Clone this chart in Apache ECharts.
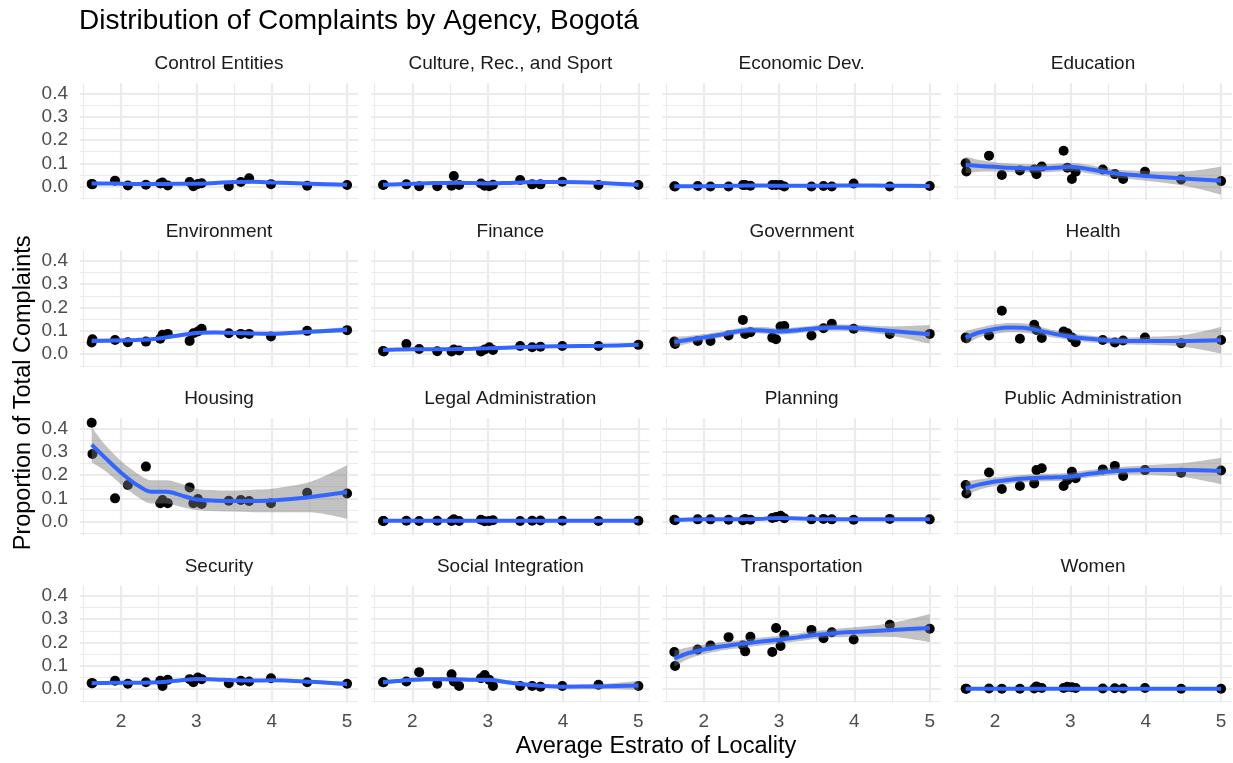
<!DOCTYPE html>
<html>
<head>
<meta charset="utf-8">
<script src="https://cdn.jsdelivr.net/npm/echarts@6/dist/echarts.min.js"></script>
<style>
  html, body { margin: 0; padding: 0; background: #ffffff; }
  #chart { width: 1233px; height: 763px; }
</style>
</head>
<body>
<div id="chart"></div>
<script>
// Facet titles, in panel order (left to right, top to bottom)
const agencies = [
  'Control Entities', 'Culture, Rec., and Sport', 'Economic Dev.', 'Education',
  'Environment', 'Finance', 'Government', 'Health',
  'Housing', 'Legal Administration', 'Planning', 'Public Administration',
  'Security', 'Social Integration', 'Transportation', 'Women'
];

// Average estrato of each locality (shared x values for every panel)
const estrato = [1.61, 1.62, 1.92, 2.09, 2.33, 2.52, 2.55, 2.62, 2.91, 2.96, 3.02, 3.07, 3.43, 3.59, 3.70, 3.99, 4.47, 5.00];

// Proportion of each locality's complaints going to the agency
const controlEntities = [0.012, 0.010, 0.026, 0.005, 0.008, 0.014, 0.018, 0.005, 0.020, 0.002, 0.012, 0.015, 0.002, 0.020, 0.036, 0.011, 0.004, 0.007];
const cultureRecSport = [0.007, 0.008, 0.010, 0.002, 0.002, 0.004, 0.046, 0.007, 0.014, 0.004, 0.002, 0.008, 0.029, 0.010, 0.010, 0.021, 0.007, 0.007];
const economicDev     = [0.002, 0.001, 0.003, 0.001, 0.001, 0.007, 0.007, 0.004, 0.007, 0.007, 0.007, 0.001, 0.001, 0.003, 0.001, 0.014, 0.001, 0.003];
const education       = [0.100, 0.065, 0.133, 0.050, 0.069, 0.074, 0.053, 0.086, 0.154, 0.081, 0.033, 0.064, 0.074, 0.054, 0.033, 0.064, 0.031, 0.024];
const environment     = [0.050, 0.064, 0.061, 0.051, 0.054, 0.066, 0.083, 0.087, 0.057, 0.090, 0.097, 0.109, 0.090, 0.087, 0.087, 0.076, 0.100, 0.103];
const finance         = [0.014, 0.012, 0.044, 0.022, 0.013, 0.012, 0.020, 0.016, 0.012, 0.020, 0.030, 0.018, 0.035, 0.030, 0.032, 0.035, 0.035, 0.040];
const government      = [0.054, 0.044, 0.057, 0.057, 0.080, 0.147, 0.087, 0.094, 0.071, 0.064, 0.119, 0.121, 0.080, 0.111, 0.130, 0.109, 0.087, 0.087];
const health          = [0.071, 0.068, 0.080, 0.186, 0.066, 0.126, 0.104, 0.069, 0.097, 0.090, 0.071, 0.051, 0.061, 0.050, 0.059, 0.071, 0.047, 0.061];
const housing         = [0.424, 0.290, 0.100, 0.157, 0.236, 0.079, 0.093, 0.079, 0.147, 0.079, 0.097, 0.076, 0.090, 0.093, 0.089, 0.079, 0.124, 0.121];
const legalAdmin      = [0.003, 0.003, 0.004, 0.003, 0.004, 0.003, 0.010, 0.003, 0.008, 0.002, 0.003, 0.006, 0.003, 0.004, 0.005, 0.004, 0.003, 0.004];
const planning        = [0.008, 0.006, 0.010, 0.010, 0.008, 0.006, 0.012, 0.008, 0.016, 0.020, 0.025, 0.015, 0.010, 0.012, 0.010, 0.008, 0.012, 0.010];
const publicAdmin     = [0.157, 0.121, 0.211, 0.140, 0.153, 0.164, 0.221, 0.229, 0.153, 0.179, 0.214, 0.186, 0.224, 0.239, 0.196, 0.221, 0.210, 0.219];
const security        = [0.026, 0.026, 0.036, 0.023, 0.030, 0.036, 0.014, 0.040, 0.043, 0.030, 0.050, 0.043, 0.026, 0.036, 0.033, 0.047, 0.030, 0.023];
const socialIntegr    = [0.030, 0.030, 0.033, 0.073, 0.023, 0.064, 0.033, 0.014, 0.047, 0.061, 0.040, 0.014, 0.014, 0.014, 0.011, 0.014, 0.019, 0.014];
const transportation  = [0.159, 0.099, 0.170, 0.187, 0.223, 0.187, 0.162, 0.225, 0.159, 0.262, 0.185, 0.232, 0.254, 0.218, 0.244, 0.213, 0.276, 0.259];
const women           = [0.002, 0.002, 0.003, 0.002, 0.002, 0.003, 0.012, 0.005, 0.005, 0.010, 0.008, 0.005, 0.003, 0.004, 0.003, 0.005, 0.002, 0.002];

// Smoothed trend (loess fit) evaluated along the estrato range
const fitX = [1.61, 1.8, 2.0, 2.2, 2.4, 2.6, 2.8, 3.0, 3.25, 3.5, 3.75, 4.0, 4.5, 5.0];
const fitControlEntities = [0.014, 0.014, 0.013, 0.012, 0.012, 0.012, 0.013, 0.013, 0.016, 0.020, 0.021, 0.018, 0.013, 0.008];
const fitCultureRecSport = [0.008, 0.011, 0.013, 0.015, 0.016, 0.017, 0.016, 0.014, 0.016, 0.019, 0.020, 0.020, 0.016, 0.008];
const fitEconomicDev     = [0.002, 0.002, 0.002, 0.003, 0.004, 0.005, 0.005, 0.004, 0.004, 0.004, 0.005, 0.005, 0.004, 0.003];
const fitEducation       = [0.093, 0.089, 0.085, 0.081, 0.079, 0.078, 0.081, 0.085, 0.075, 0.061, 0.052, 0.046, 0.035, 0.026];
const fitEnvironment     = [0.057, 0.058, 0.059, 0.061, 0.064, 0.072, 0.082, 0.091, 0.093, 0.091, 0.089, 0.088, 0.096, 0.105];
const fitFinance         = [0.018, 0.020, 0.021, 0.021, 0.021, 0.022, 0.023, 0.025, 0.028, 0.031, 0.033, 0.034, 0.036, 0.040];
const fitGovernment      = [0.052, 0.062, 0.072, 0.082, 0.095, 0.104, 0.102, 0.097, 0.103, 0.111, 0.114, 0.112, 0.099, 0.085];
const fitHealth          = [0.071, 0.094, 0.108, 0.114, 0.112, 0.100, 0.086, 0.075, 0.066, 0.059, 0.057, 0.057, 0.057, 0.060];
const fitHousing         = [0.330, 0.270, 0.210, 0.160, 0.128, 0.128, 0.113, 0.095, 0.090, 0.089, 0.089, 0.091, 0.105, 0.127];
const fitLegalAdmin      = [0.004, 0.004, 0.004, 0.004, 0.004, 0.004, 0.004, 0.004, 0.004, 0.004, 0.004, 0.004, 0.004, 0.004];
const fitPlanning        = [0.008, 0.009, 0.010, 0.010, 0.010, 0.011, 0.013, 0.016, 0.014, 0.012, 0.011, 0.011, 0.011, 0.011];
const fitPublicAdmin     = [0.143, 0.160, 0.172, 0.180, 0.185, 0.188, 0.190, 0.194, 0.205, 0.214, 0.219, 0.221, 0.221, 0.217];
const fitSecurity        = [0.026, 0.027, 0.028, 0.028, 0.029, 0.032, 0.038, 0.044, 0.042, 0.038, 0.037, 0.038, 0.032, 0.022];
const fitSocialIntegr    = [0.030, 0.035, 0.040, 0.043, 0.043, 0.042, 0.040, 0.040, 0.030, 0.020, 0.014, 0.011, 0.012, 0.016];
const fitTransportation  = [0.131, 0.155, 0.170, 0.182, 0.190, 0.198, 0.205, 0.212, 0.222, 0.233, 0.240, 0.245, 0.254, 0.262];
const fitWomen           = [0.002, 0.002, 0.002, 0.002, 0.002, 0.002, 0.002, 0.002, 0.002, 0.002, 0.002, 0.002, 0.002, 0.002];

// Half-width of the 95% confidence ribbon around each fit
const ciControlEntities = [0.006, 0.005, 0.004, 0.004, 0.004, 0.004, 0.004, 0.004, 0.004, 0.005, 0.005, 0.005, 0.005, 0.008];
const ciCultureRecSport = [0.006, 0.005, 0.004, 0.004, 0.004, 0.004, 0.004, 0.004, 0.004, 0.004, 0.004, 0.005, 0.005, 0.008];
const ciEconomicDev     = [0.003, 0.003, 0.002, 0.002, 0.002, 0.002, 0.002, 0.002, 0.002, 0.002, 0.002, 0.002, 0.003, 0.004];
const ciEducation       = [0.035, 0.025, 0.020, 0.018, 0.017, 0.017, 0.017, 0.018, 0.018, 0.017, 0.018, 0.020, 0.030, 0.060];
const ciEnvironment     = [0.010, 0.008, 0.007, 0.007, 0.007, 0.007, 0.007, 0.007, 0.007, 0.007, 0.007, 0.007, 0.008, 0.012];
const ciFinance         = [0.006, 0.005, 0.004, 0.004, 0.004, 0.004, 0.004, 0.004, 0.004, 0.004, 0.004, 0.004, 0.005, 0.007];
const ciGovernment      = [0.022, 0.016, 0.014, 0.013, 0.013, 0.014, 0.014, 0.013, 0.013, 0.013, 0.013, 0.014, 0.020, 0.040];
const ciHealth          = [0.028, 0.020, 0.020, 0.020, 0.020, 0.018, 0.016, 0.015, 0.014, 0.014, 0.015, 0.017, 0.025, 0.057];
const ciHousing         = [0.075, 0.055, 0.050, 0.050, 0.050, 0.050, 0.050, 0.045, 0.045, 0.045, 0.048, 0.050, 0.065, 0.115];
const ciLegalAdmin      = [0.003, 0.003, 0.002, 0.002, 0.002, 0.002, 0.002, 0.002, 0.002, 0.002, 0.002, 0.002, 0.003, 0.004];
const ciPlanning        = [0.004, 0.004, 0.003, 0.003, 0.003, 0.003, 0.003, 0.003, 0.003, 0.003, 0.003, 0.003, 0.004, 0.006];
const ciPublicAdmin     = [0.030, 0.022, 0.018, 0.016, 0.016, 0.016, 0.016, 0.016, 0.016, 0.016, 0.017, 0.020, 0.030, 0.057];
const ciSecurity        = [0.006, 0.005, 0.005, 0.005, 0.005, 0.005, 0.005, 0.005, 0.005, 0.005, 0.005, 0.005, 0.006, 0.009];
const ciSocialIntegr    = [0.010, 0.008, 0.008, 0.008, 0.008, 0.008, 0.008, 0.008, 0.008, 0.008, 0.008, 0.008, 0.010, 0.020];
const ciTransportation  = [0.035, 0.025, 0.020, 0.018, 0.017, 0.017, 0.017, 0.017, 0.017, 0.017, 0.018, 0.020, 0.030, 0.060];
const ciWomen           = [0.003, 0.003, 0.002, 0.002, 0.002, 0.002, 0.002, 0.002, 0.002, 0.002, 0.002, 0.002, 0.003, 0.004];

// Axis tick labels
const xTicks = [2, 3, 4, 5];
const yTicks = [0, 0.1, 0.2, 0.3, 0.4];

const pointSets = [controlEntities, cultureRecSport, economicDev, education, environment, finance, government, health,
                   housing, legalAdmin, planning, publicAdmin, security, socialIntegr, transportation, women];
const fitSets = [fitControlEntities, fitCultureRecSport, fitEconomicDev, fitEducation, fitEnvironment, fitFinance, fitGovernment, fitHealth,
                 fitHousing, fitLegalAdmin, fitPlanning, fitPublicAdmin, fitSecurity, fitSocialIntegr, fitTransportation, fitWomen];
const ciSets = [ciControlEntities, ciCultureRecSport, ciEconomicDev, ciEducation, ciEnvironment, ciFinance, ciGovernment, ciHealth,
                ciHousing, ciLegalAdmin, ciPlanning, ciPublicAdmin, ciSecurity, ciSocialIntegr, ciTransportation, ciWomen];

// Panel geometry
const X_MIN = 1.455, X_MAX = 5.145;
const Y_MIN = -0.057, Y_MAX = 0.443;
const PANEL_LEFT = 80, PANEL_STEP_X = 291.33, PANEL_W = 278;
const ZERO_Y = 186.7, PANEL_STEP_Y = 167.5, Y_SCALE = 233.5;
const PANEL_H = (Y_MAX - Y_MIN) * Y_SCALE;
const FONT = '"Liberation Sans", Arial, Helvetica, sans-serif';

const gridMajor = { color: '#ebebeb', width: 2.2, type: 'solid' };
const gridMinor = { color: '#ebebeb', width: 1.1, type: 'solid' };
const hMajor = [0, 0.1, 0.2, 0.3, 0.4];
const hMinor = [-0.05, 0.05, 0.15, 0.25, 0.35];
const vMajor = [2, 3, 4, 5];
const vMinor = [1.5, 2.5, 3.5, 4.5];

const grids = [], xAxes = [], yAxes = [], series = [], graphics = [];

agencies.forEach((name, i) => {
  const row = Math.floor(i / 4), col = i % 4;
  const left = PANEL_LEFT + col * PANEL_STEP_X;
  const top = ZERO_Y + row * PANEL_STEP_Y - Y_MAX * Y_SCALE;
  grids.push({ left: left, top: top, width: PANEL_W, height: PANEL_H, containLabel: false });

  xAxes.push({
    type: 'value', gridIndex: i, min: X_MIN, max: X_MAX,
    axisLine: { show: false }, axisTick: { show: false }, splitLine: { show: false },
    axisLabel: {
      show: row === 3, customValues: xTicks, margin: 10,
      fontSize: 19, color: '#4d4d4d', fontFamily: FONT,
      formatter: v => String(Math.round(v))
    }
  });
  yAxes.push({
    type: 'value', gridIndex: i, min: Y_MIN, max: Y_MAX,
    axisLine: { show: false }, axisTick: { show: false }, splitLine: { show: false },
    axisLabel: {
      show: col === 0, customValues: yTicks, margin: 12,
      fontSize: 19, color: '#4d4d4d', fontFamily: FONT,
      formatter: v => v.toFixed(1)
    }
  });

  const gridLines = []
    .concat(hMinor.map(v => ({ yAxis: v, lineStyle: gridMinor })))
    .concat(vMinor.map(v => ({ xAxis: v, lineStyle: gridMinor })))
    .concat(hMajor.map(v => ({ yAxis: v, lineStyle: gridMajor })))
    .concat(vMajor.map(v => ({ xAxis: v, lineStyle: gridMajor })));

  // observed localities
  series.push({
    type: 'scatter', xAxisIndex: i, yAxisIndex: i, z: 3,
    symbol: 'circle', symbolSize: 10,
    itemStyle: { color: '#000000', opacity: 1 },
    data: estrato.map((x, k) => [x, pointSets[i][k]]),
    silent: true,
    markLine: {
      z: 1, silent: true, symbol: ['none', 'none'], animation: false,
      label: { show: false }, emphasis: { disabled: true },
      data: gridLines
    }
  });

  // confidence ribbon: invisible lower edge + stacked width
  // (value column first so the stack accumulates along y)
  const stackId = 'ribbon' + i;
  series.push({
    type: 'line', xAxisIndex: i, yAxisIndex: i, z: 4,
    stack: stackId, stackStrategy: 'all', smooth: 0.3, symbol: 'none',
    encode: { x: 1, y: 0 },
    lineStyle: { opacity: 0 }, silent: true,
    data: fitX.map((x, k) => [fitSets[i][k] - ciSets[i][k], x])
  });
  series.push({
    type: 'line', xAxisIndex: i, yAxisIndex: i, z: 4,
    stack: stackId, stackStrategy: 'all', smooth: 0.3, symbol: 'none',
    encode: { x: 1, y: 0 },
    lineStyle: { opacity: 0 }, silent: true,
    areaStyle: { color: 'rgba(120,120,120,0.45)', opacity: 1 },
    data: fitX.map((x, k) => [2 * ciSets[i][k], x])
  });

  // fitted trend
  series.push({
    type: 'line', xAxisIndex: i, yAxisIndex: i, z: 5,
    smooth: 0.3, symbol: 'none', silent: true,
    lineStyle: { color: '#3366ff', width: 4 },
    data: fitX.map((x, k) => [x, fitSets[i][k]])
  });

  // facet strip label
  graphics.push({
    type: 'text', silent: true,
    x: left + PANEL_W / 2, y: top - 19,
    style: { text: name, fill: '#1a1a1a', font: '19px ' + FONT, textAlign: 'center', textVerticalAlign: 'middle' }
  });
});

const panelsTop = ZERO_Y - Y_MAX * Y_SCALE;
const panelsBottom = ZERO_Y + 3 * PANEL_STEP_Y - Y_MIN * Y_SCALE;
const panelsRight = PANEL_LEFT + 3 * PANEL_STEP_X + PANEL_W;

graphics.push({
  type: 'text', silent: true, x: 79, y: 21,
  style: { text: 'Distribution of Complaints by Agency, Bogotá', fill: '#000000', font: '28px ' + FONT, textAlign: 'left', textVerticalAlign: 'middle' }
});
graphics.push({
  type: 'text', silent: true, x: (PANEL_LEFT + panelsRight) / 2, y: 747,
  style: { text: 'Average Estrato of Locality', fill: '#000000', font: '23.5px ' + FONT, textAlign: 'center', textVerticalAlign: 'middle' }
});
graphics.push({
  type: 'text', silent: true, x: 24, y: (panelsTop + panelsBottom) / 2, rotation: Math.PI / 2,
  style: { text: 'Proportion of Total Complaints', fill: '#000000', font: '23.5px ' + FONT, textAlign: 'center', textVerticalAlign: 'middle' }
});

const chart = echarts.init(document.getElementById('chart'), null, { renderer: 'canvas' });
chart.setOption({
  backgroundColor: '#ffffff',
  animation: false,
  grid: grids,
  xAxis: xAxes,
  yAxis: yAxes,
  series: series,
  graphic: graphics
});
</script>
</body>
</html>
